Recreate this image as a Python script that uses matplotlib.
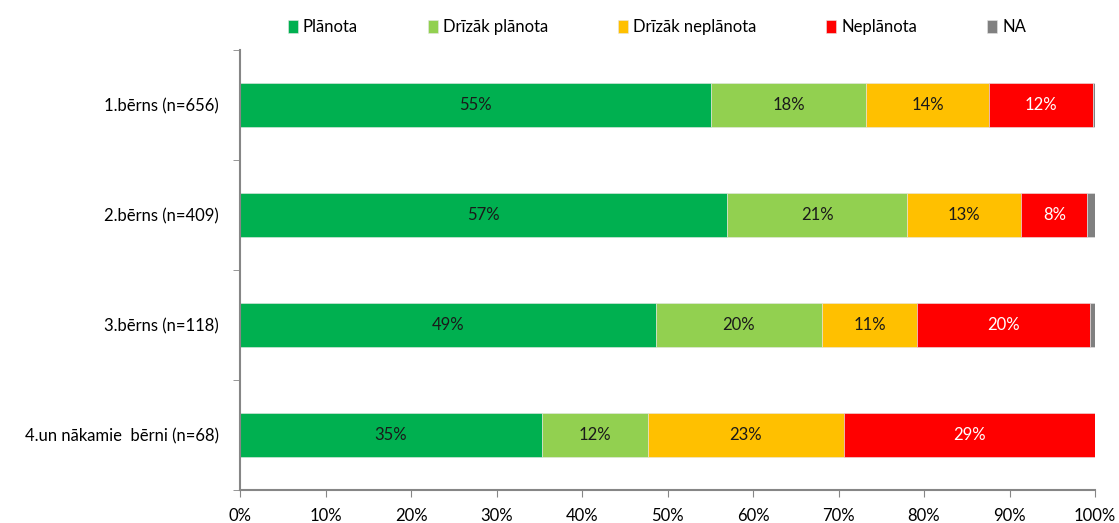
import matplotlib
matplotlib.use("Agg")
import matplotlib.pyplot as plt
import numpy as np

plt.rcParams.update({"font.family": ["Lato", "DejaVu Sans"], "font.size": 12})

categories = ["1.bērns (n=656)", "2.bērns (n=409)", "3.bērns (n=118)", "4.un nākamie  bērni (n=68)"]
series = ["Plānota", "Drīzāk plānota", "Drīzāk neplānota", "Neplānota", "NA"]
planota = [55.1, 57.0, 48.6, 35.3]
drizak_planota = [18.1, 21.0, 19.5, 12.4]
drizak_neplanota = [14.4, 13.4, 11.1, 22.9]
neplanota = [12.2, 7.7, 20.2, 29.4]
na = [0.2, 0.9, 0.6, 0.0]

colors = ["#00B050", "#92D050", "#FFC000", "#FF0000", "#808080"]
label_colors = ["#1a1a1a", "#1a1a1a", "#1a1a1a", "white", None]
AXIS = "#868686"

fig = plt.figure(figsize=(11.19, 5.23), dpi=100)
ax = fig.add_axes([240/1119, 1 - 490/523, 855/1119, 440/523])

y = np.arange(len(categories))
left = np.zeros(len(categories))
for name, vals, col, lc in zip(series, [planota, drizak_planota, drizak_neplanota, neplanota, na],
                               colors, label_colors):
    vals = np.array(vals)
    ax.barh(y, vals, left=left, height=0.4, color=col, edgecolor="#e6e6e6", lw=0.4, label=name)
    if lc:
        for yi, l, v in zip(y, left, vals):
            ax.text(l + v / 2, yi, f"{v:.0f}%", ha="center", va="center", color=lc, fontsize=12)
    left += vals

ax.set_xlim(0, 100)
ax.set_ylim(len(categories) - 0.5, -0.5)
ax.set_xticks(np.arange(0, 101, 10))
ax.set_xticklabels([f"{t}%" for t in range(0, 101, 10)])
ax.set_yticks(y)
ax.set_yticklabels(categories)
ax.set_yticks(np.arange(-0.5, len(categories), 1), minor=True)
ax.tick_params(axis="y", which="major", length=0, pad=15)
ax.tick_params(axis="y", which="minor", length=5, color=AXIS, direction="out")
ax.tick_params(axis="x", length=5, color=AXIS, direction="out", pad=8)
for s in ("top", "right"):
    ax.spines[s].set_visible(False)
for s in ("left", "bottom"):
    ax.spines[s].set_color(AXIS)
    ax.spines[s].set_linewidth(1.5)

h, l = ax.get_legend_handles_labels()
fig.legend(h, l, loc="center", bbox_to_anchor=(0.587, 0.948), ncol=5, frameon=False,
           handlelength=0.6, handleheight=0.9, handletextpad=0.3, columnspacing=4.2, fontsize=12)

fig.savefig("out.png", dpi=100)
